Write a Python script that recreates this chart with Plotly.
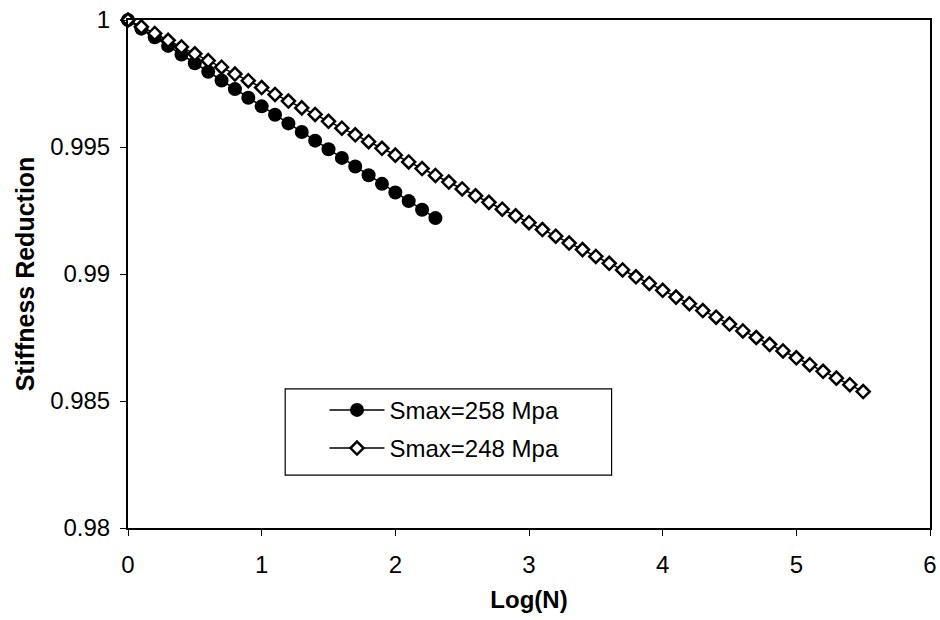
import plotly.graph_objects as go

# Smax = 258 MPa (filled circles)
logn_258 = [0.0, 0.1, 0.2, 0.3, 0.4, 0.5, 0.6, 0.7, 0.8, 0.9,
            1.0, 1.1, 1.2, 1.3, 1.4, 1.5, 1.6, 1.7, 1.8, 1.9,
            2.0, 2.1, 2.2, 2.3]
stiff_258 = [1.0, 0.99966, 0.99932, 0.99898, 0.99864, 0.99830, 0.99796, 0.99762, 0.99728, 0.99694,
             0.99660, 0.99627, 0.99593, 0.99559, 0.99525, 0.99491, 0.99457, 0.99423, 0.99389, 0.99355,
             0.99321, 0.99287, 0.99253, 0.99220]

# Smax = 248 MPa (open diamonds)
logn_248 = [0.0, 0.1, 0.2, 0.3, 0.4, 0.5, 0.6, 0.7, 0.8, 0.9,
            1.0, 1.1, 1.2, 1.3, 1.4, 1.5, 1.6, 1.7, 1.8, 1.9,
            2.0, 2.1, 2.2, 2.3, 2.4, 2.5, 2.6, 2.7, 2.8, 2.9,
            3.0, 3.1, 3.2, 3.3, 3.4, 3.5, 3.6, 3.7, 3.8, 3.9,
            4.0, 4.1, 4.2, 4.3, 4.4, 4.5, 4.6, 4.7, 4.8, 4.9,
            5.0, 5.1, 5.2, 5.3, 5.4, 5.5]
stiff_248 = [1.0, 0.99973, 0.99947, 0.99920, 0.99894, 0.99867, 0.99840, 0.99814, 0.99787, 0.99761,
             0.99734, 0.99707, 0.99681, 0.99654, 0.99628, 0.99601, 0.99574, 0.99548, 0.99521, 0.99495,
             0.99468, 0.99441, 0.99415, 0.99388, 0.99362, 0.99335, 0.99308, 0.99282, 0.99255, 0.99229,
             0.99202, 0.99175, 0.99149, 0.99122, 0.99096, 0.99069, 0.99042, 0.99016, 0.98989, 0.98963,
             0.98936, 0.98909, 0.98883, 0.98856, 0.98830, 0.98803, 0.98776, 0.98750, 0.98723, 0.98697,
             0.98670, 0.98643, 0.98617, 0.98590, 0.98564, 0.98537]

y_ticks = [0.98, 0.985, 0.99, 0.995, 1.0]
y_tick_text = ['0.98', '0.985', '0.99', '0.995', '1']

fig = go.Figure()
fig.add_trace(go.Scatter(x = logn_258, y = stiff_258, mode = 'lines+markers', name = 'Smax=258 Mpa',
                         line = dict(color = 'black', width = 1.5),
                         marker = dict(symbol = 'circle', size = 14, color = 'black'),
                         legendgroup = 'a', cliponaxis = False))
fig.add_trace(go.Scatter(x = logn_248, y = stiff_248, mode = 'lines+markers', name = 'Smax=248 Mpa',
                         line = dict(color = 'black', width = 1.5),
                         marker = dict(symbol = 'diamond', size = 10, color = 'white',
                                       line = dict(color = 'black', width = 2.5)),
                         legendgroup = 'b', cliponaxis = False))

fig.update_layout(
    width = 940, height = 620,
    margin = dict(l = 128, r = 10, t = 20, b = 92, autoexpand = False),
    plot_bgcolor = 'white', paper_bgcolor = 'white',
    font = dict(family = 'Liberation Sans, Arial, sans-serif', color = 'black', size = 24),
    showlegend = True,
    legend = dict(x = 0.245, y = 0.276, xanchor = 'left', yanchor = 'top',
                  borderwidth = 0, bgcolor = 'rgba(0,0,0,0)',
                  font = dict(size = 24), tracegroupgap = 4, itemwidth = 55),
    # legend frame
    shapes = [dict(type = 'rect', xref = 'paper', yref = 'paper',
                   x0 = 0.196, x1 = 0.603, y0 = 0.104, y1 = 0.274,
                   line = dict(color = 'black', width = 1.2), fillcolor = 'white', layer = 'below')]
)
fig.update_xaxes(range = [0, 6], dtick = 1, tick0 = 0, showgrid = False, zeroline = False,
                 showline = True, linecolor = 'black', linewidth = 2, mirror = True,
                 ticks = 'outside', ticklen = 6, tickcolor = 'black', ticklabelstandoff = 8,
                 automargin = False,
                 title = dict(text = '<b>Log(N)</b>', font = dict(size = 24), standoff = 14))
fig.update_yaxes(range = [0.98, 1.0], tickvals = y_ticks, ticktext = y_tick_text,
                 showgrid = False, zeroline = False,
                 showline = True, linecolor = 'black', linewidth = 2, mirror = True,
                 ticks = 'outside', ticklen = 6, tickcolor = 'black', ticklabelstandoff = 5,
                 automargin = False,
                 title = dict(text = '<b>Stiffness Reduction</b>', font = dict(size = 25), standoff = 8))

# drop the page's default 8px body margin
fig.write_html("out.html", config = {'displayModeBar': False},
               post_script = "document.body.style.margin = '0';")
